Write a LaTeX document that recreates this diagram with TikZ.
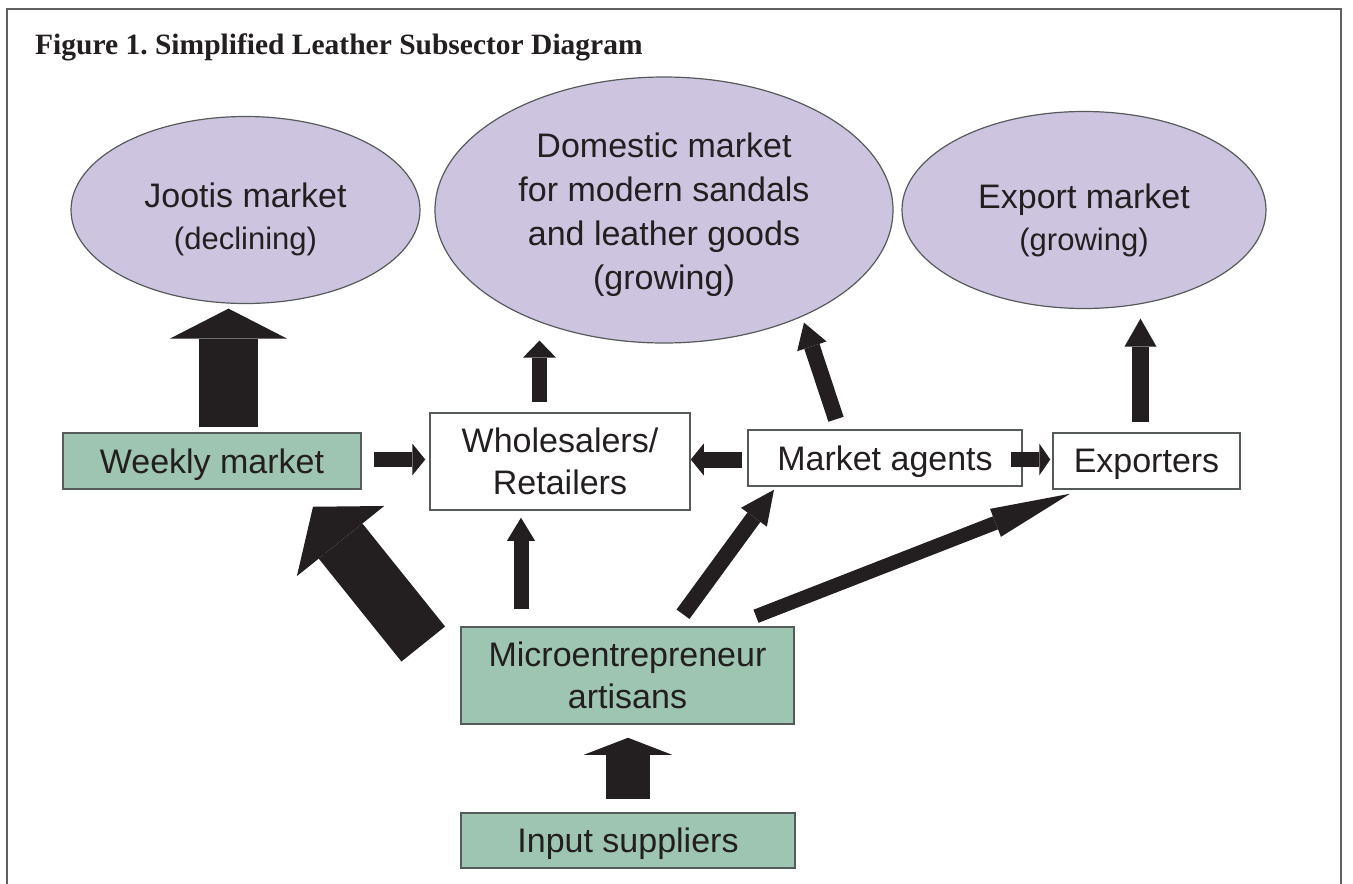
\documentclass[tikz,border=0pt]{standalone}
\usepackage{fontspec}
\usepackage{tikz}
\usetikzlibrary{shapes.geometric,arrows.meta,calc}
\newfontfamily\sansfont{Liberation Sans}
\newfontfamily\capfont{Liberation Serif}
\definecolor{lilac}{HTML}{CDC5E0}
\definecolor{sage}{HTML}{9EC5B2}
\definecolor{ink}{HTML}{231F20}
\definecolor{rim}{HTML}{555A5B}
\definecolor{framegray}{HTML}{5F6062}

\begin{document}
\begin{tikzpicture}[x=1pt,y=-1pt,
	  font=\sansfont\fontsize{34}{42}\selectfont,
	  market/.style={ellipse,draw=rim,line width=1.2pt,fill=lilac,inner sep=0pt},
	  says/.style={align=center,text=ink,yshift=-#1},
	  actor/.style={rectangle,draw=rim,line width=1.5pt,fill=white,inner sep=0pt,align=center,text=ink},
	  oneline/.style={text depth=0pt},
	  flow/.style n args={3}{draw=ink,line width=#1,-{Triangle[width=#2,length=#3,line width=0pt]}}]
	  \useasboundingbox (0,0) rectangle (1353,884);
	  % Frame and caption
	  \draw [framegray, line width=2pt] (7,884) -- (7,9) -- (1341,9) -- (1341,884);
	  \node [anchor=west, inner sep=0pt, text=ink, font=\capfont\bfseries\fontsize{29.5}{35}\selectfont] (caption) at (35,47) {Figure 1.\ Simplified Leather Subsector Diagram};
	  % Markets
	  \node [market, minimum width=349pt, minimum height=187pt,
	    label={[says=9pt]center:Jootis market\\{\fontsize{31}{41}\selectfont(declining)}}] (jootis) at (245.5,210) {};
	  \node [market, minimum width=458pt, minimum height=266pt,
	    label={[says=4.5pt, font=\sansfont\fontsize{34}{44}\selectfont]center:Domestic market\\for modern sandals\\and leather goods\\(growing)}] (domestic) at (664,210) {};
	  \node [market, minimum width=364pt, minimum height=197pt,
	    label={[says=10pt]center:Export market\\{\fontsize{31}{41}\selectfont(growing)}}] (export) at (1084,210) {};
	  % Actors
	  \node [actor, oneline, fill=sage, minimum width=298pt, minimum height=56pt] (weekly) at (212,461) {Weekly market};
	  \node [actor, minimum width=260pt, minimum height=97pt] (whole) at (560,461.5) {Wholesalers/\\Retailers};
	  \node [actor, oneline, minimum width=274pt, minimum height=56pt] (agents) at (885,458) {Market agents};
	  \node [actor, oneline, minimum width=187pt, minimum height=56pt] (exporters) at (1146.5,461) {Exporters};
	  \node [actor, fill=sage, minimum width=333pt, minimum height=97pt] (artisans) at (627.5,675.5) {Microentrepreneur\\artisans};
	  \node [actor, oneline, fill=sage, minimum width=334pt, minimum height=55pt] (input) at (628,840.5) {Input suppliers};
	  % Flows
	  \draw [flow={59pt}{117pt}{30pt}] ($(weekly.north)+(16.5,-5)$) -- ($(jootis.south)+(-17,4.5)$);
	  \draw [flow={15pt}{32pt}{13pt}] ($(weekly.east)+(12,-1.5)$) -- ($(whole.west)+(-4,-2)$);
	  \draw [flow={16pt}{32pt}{13pt}] ($(agents.west)+(-5,1.5)$) -- ($(whole.east)+(0,-2)$);
	  \draw [flow={15pt}{32pt}{11pt}] ($(agents.east)+(-12,1.5)$) -- ($(exporters.west)+(-2,-1.5)$);
	  \draw [flow={15pt}{33pt}{17pt}] ($(whole.north)+(-20.5,-10)$) -- ($(domestic.south)+(-124.5,-3)$);
	  \draw [flow={16pt}{31pt}{25pt}] ($(agents.north)+(-49,-10)$) -- ($(domestic.south)+(140,-21)$);
	  \draw [flow={17pt}{32pt}{28pt}] ($(exporters.north)+(-6,-10)$) -- ($(export.south)+(56.5,9.5)$);
	  \draw [flow={15pt}{28pt}{23pt}] ($(artisans.north)+(-106.5,-17)$) -- ($(whole.south)+(-39,7)$);
	  \draw [flow={16pt}{32pt}{34pt}] ($(artisans.north)+(55.5,-12)$) -- ($(agents.south)+(-111,3)$);
	  \draw [flow={14pt}{30pt}{80pt}] ($(artisans.north)+(128.5,-10)$) -- ($(exporters.south)+(-76.5,4)$);
	  \draw [flow={56pt}{112pt}{44pt}] ($(artisans.west)+(-37,-31.5)$) -- ($(weekly.south)+(101,17)$);
	  \draw [flow={44pt}{88pt}{17pt}] ($(input.north)+(0,-13)$) -- ($(artisans.south)+(0.5,13)$);
	 \end{tikzpicture}
\end{document}
